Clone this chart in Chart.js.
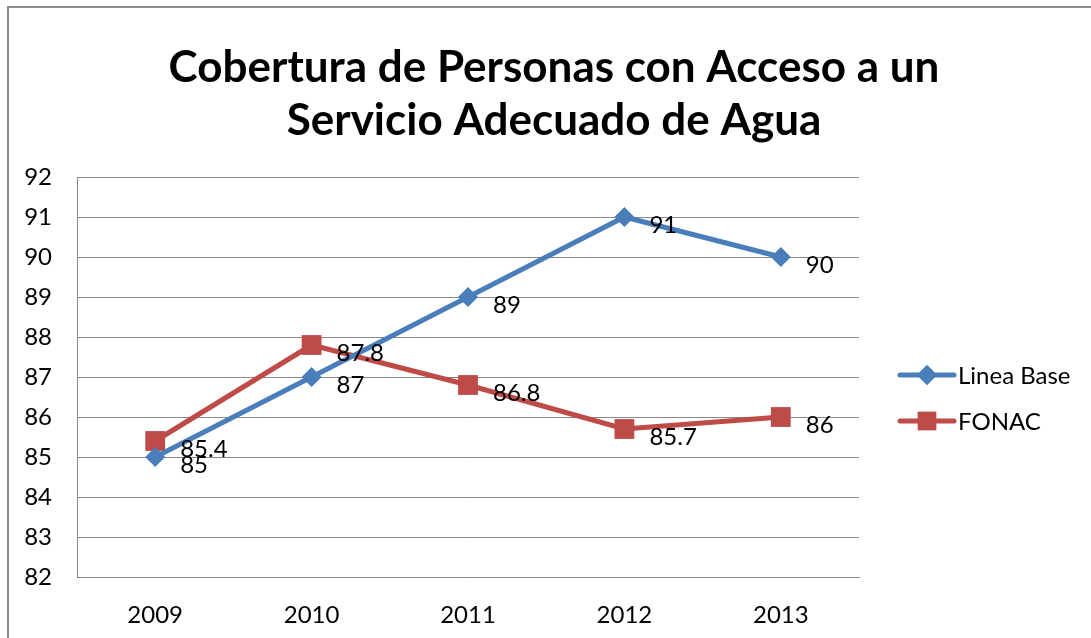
<!DOCTYPE html>
<html>
<head>
<meta charset="utf-8">
<script src="https://cdn.jsdelivr.net/npm/chart.js@4.4.1/dist/chart.umd.min.js"></script>
<style>
  html, body { margin: 0; padding: 0; background: #fff; }
  #wrap { position: relative; width: 1091px; height: 638px; }
</style>
</head>
<body>
<div id="wrap"><canvas id="chart" width="1091" height="638"></canvas></div>
<script>
// Datos del gráfico
const years = ['2009', '2010', '2011', '2012', '2013'];
const lineaBase = [85, 87, 89, 91, 90];
const fonac = [85.4, 87.8, 86.8, 85.7, 86];
const titleLines = ['Cobertura de Personas con Acceso a un', 'Servicio Adecuado de Agua'];

const FONT = 'Lato, "Open Sans", sans-serif';
const BLUE = '#4A7EBB';
const RED = '#BE4B48';

// Título, etiquetas de valores y leyenda dibujados a mano
const extrasPlugin = {
    id: 'extras',
    afterDatasetsDraw(chart) {
        const ctx = chart.ctx;
        ctx.save();
        ctx.fillStyle = '#000';
        ctx.font = '24px ' + FONT;
        ctx.textAlign = 'left';
        ctx.textBaseline = 'middle';
        chart.data.datasets.forEach((ds, i) => {
            const meta = chart.getDatasetMeta(i);
            meta.data.forEach((pt, j) => {
                ctx.fillText(String(ds.data[j]), pt.x + 25, pt.y + 8);
            });
        });
        ctx.restore();
    },
    afterDraw(chart) {
        const ctx = chart.ctx;
        ctx.save();
        // borde exterior
        ctx.strokeStyle = '#8c8c8c';
        ctx.lineWidth = 2;
        ctx.beginPath();
        ctx.moveTo(8, 638);
        ctx.lineTo(8, 7);
        ctx.lineTo(1091, 7);
        ctx.stroke();

        // título
        ctx.fillStyle = '#000';
        ctx.font = 'bold 44px ' + FONT;
        ctx.textAlign = 'center';
        ctx.textBaseline = 'alphabetic';
        ctx.fillText(titleLines[0], 554, 82);
        ctx.fillText(titleLines[1], 554, 135);

        // leyenda
        const items = [
            { label: 'Linea Base', color: BLUE, style: 'rectRot', radius: 10, y: 375 },
            { label: 'FONAC', color: RED, style: 'rect', radius: 13, y: 421 }
        ];
        items.forEach(it => {
            ctx.strokeStyle = it.color;
            ctx.lineWidth = 5;
            ctx.lineCap = 'round';
            ctx.beginPath();
            ctx.moveTo(900, it.y);
            ctx.lineTo(954, it.y);
            ctx.stroke();
            ctx.fillStyle = it.color;
            Chart.helpers.drawPoint(ctx, { pointStyle: it.style, radius: it.radius, borderWidth: 0 }, 927, it.y);
            ctx.fill();
            ctx.fillStyle = '#000';
            ctx.font = '24px ' + FONT;
            ctx.textAlign = 'left';
            ctx.textBaseline = 'middle';
            ctx.fillText(it.label, 958, it.y + 1);
        });
        ctx.restore();
    }
};

const ctx = document.getElementById('chart').getContext('2d');
new Chart(ctx, {
    type: 'line',
    data: {
        labels: years,
        datasets: [
            {
                label: 'Linea Base',
                data: lineaBase,
                borderColor: BLUE,
                backgroundColor: BLUE,
                borderWidth: 5,
                pointStyle: 'rectRot',
                pointRadius: 10,
                pointBorderWidth: 0,
                tension: 0
            },
            {
                label: 'FONAC',
                data: fonac,
                borderColor: RED,
                backgroundColor: RED,
                borderWidth: 5,
                pointStyle: 'rect',
                pointRadius: 14,
                pointBorderWidth: 0,
                tension: 0
            }
        ]
    },
    options: {
        responsive: false,
        animation: false,
        layout: { padding: { left: 0, right: 232, top: 177, bottom: 0 } },
        plugins: {
            legend: { display: false },
            tooltip: { enabled: false },
            title: { display: false }
        },
        scales: {
            x: {
                offset: true,
                grid: { display: false, drawTicks: false },
                border: { display: true, color: '#8a8a8a', width: 1 },
                ticks: { color: '#000', font: { family: FONT, size: 24 }, padding: 24 },
                afterFit(scale) { scale.height = 61; }
            },
            y: {
                min: 82,
                max: 92,
                grid: { color: '#8a8a8a', lineWidth: 1, drawTicks: false },
                border: { display: true, color: '#8a8a8a', width: 1 },
                ticks: { stepSize: 1, color: '#000', font: { family: FONT, size: 24 }, padding: 25 },
                afterFit(scale) { scale.width = 77; }
            }
        }
    },
    plugins: [extrasPlugin]
});
</script>
</body>
</html>
